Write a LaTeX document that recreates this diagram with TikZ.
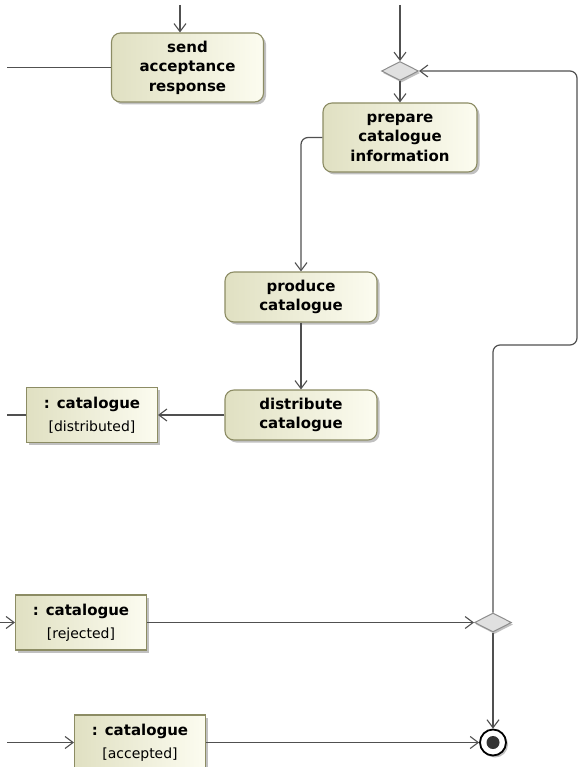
\documentclass[tikz,border=0pt]{standalone}
\usepackage{fontspec}
\setmainfont{DejaVu Sans}
\usepackage{xcolor}
\usepackage{tikz}
\usetikzlibrary{positioning, arrows.meta, shapes.geometric, shadows}

\definecolor{fillL}{RGB}{224,224,194}
\definecolor{fillR}{RGB}{252,252,240}
\definecolor{boxline}{RGB}{140,140,100}
\definecolor{wire}{RGB}{80,80,80}
\definecolor{decfill}{RGB}{224,224,224}
\definecolor{decline}{RGB}{140,140,140}

\tikzset{
  action/.style = {rectangle, rounded corners=9pt, draw=boxline, line width=1.1pt,
    left color=fillL, right color=fillR, minimum width=152pt, inner sep=2pt,
    align=center, font=\fontsize{15}{19.5}\selectfont\bfseries,
    drop shadow={shadow xshift=2.5pt, shadow yshift=-2.5pt, fill=black!35, opacity=0.7}},
  object/.style = {rectangle, draw=boxline, line width=1.1pt,
    left color=fillL, right color=fillR, minimum width=131pt, minimum height=55pt,
    align=center, font=\fontsize{14}{23}\selectfont,
    drop shadow={shadow xshift=2.5pt, shadow yshift=-2.5pt, fill=black!35, opacity=0.7}},
  decision/.style = {diamond, aspect=2, draw=decline, fill=decfill, line width=1pt,
    minimum width=37pt, minimum height=19pt, inner sep=0pt,
    drop shadow={shadow xshift=1.5pt, shadow yshift=-2pt, fill=black!35, opacity=0.7}},
  final/.style = {circle, draw=black, fill=white, line width=1.8pt,
    minimum size=26pt, inner sep=0pt,
    drop shadow={shadow xshift=2pt, shadow yshift=-2pt, fill=black!35, opacity=0.7}},
  line/.style = {draw=wire, line width=1.2pt},
  flow/.style = {line, -{Straight Barb[length=8pt, width=12pt, line width=1.1pt]}}
}

\begin{document}
\begin{tikzpicture}[x=1pt, y=-1pt]
    \useasboundingbox[fill=white] (0,0) rectangle (579,767);

    % actions
    \node[action, minimum height=69pt] (send) at (187.5,67.5) {send\\acceptance\\response};
    \node[action, minimum height=69pt, minimum width=154pt] (prep) at (400,137.5) {prepare\\catalogue\\information};
    \node[action, minimum height=50pt] (prod) at (301,297) {produce\\catalogue};
    \node[action, minimum height=50pt] (dist) at (301,415) {distribute\\catalogue};

    % objects
    \node[object] (objdist) at (92,415) {{\fontsize{15}{23}\selectfont\bfseries : catalogue}\\{[}distributed{]}};
    \node[object] (objrej) at (81,622.5) {{\fontsize{15}{23}\selectfont\bfseries : catalogue}\\{[}rejected{]}};
    \node[object] (objacc) at (140,742.5) {{\fontsize{15}{23}\selectfont\bfseries : catalogue}\\{[}accepted{]}};

    % control nodes
    \node[decision] (dtop) at (400,71) {};
    \node[decision] (drej) at (493,622.5) {};
    \node[final] (fin) at (493,742.5) {};
    \fill[black!80] (fin) circle (6.5pt);

    % loose ends
    \coordinate (in1) at (180,5);
    \coordinate (in2) at (400,5);
    \coordinate (l1) at (7,67.5);
    \coordinate (l3) at (7,415);
    \coordinate (l4) at (0,622.5);
    \coordinate (l5) at (7,742.5);
    \coordinate (c1) at (577,345);

    % connectors
    \draw[flow] (in1) -- (in1 |- send.north);
    \draw[line] (l1) -- (send.west);
    \draw[flow] (in2) -- (dtop.north);
    \draw[flow] (dtop) -- (prep);
    \draw[flow, rounded corners=7pt] (prep.west) -| (prod.north);
    \draw[flow] (prod) -- (dist);
    \draw[flow] (dist) -- (objdist);
    \draw[line] (l3) -- (objdist.west);
    \draw[flow] (l4) -- (objrej.west);
    \draw[flow] (objrej) -- (drej);
    \draw[flow, rounded corners=7pt] (drej.north) |- (c1) |- (dtop.east);
    \draw[flow] (drej) -- (fin);
    \draw[flow] (l5) -- (objacc.west);
    \draw[flow] (objacc) -- (fin);
\end{tikzpicture}
\end{document}
